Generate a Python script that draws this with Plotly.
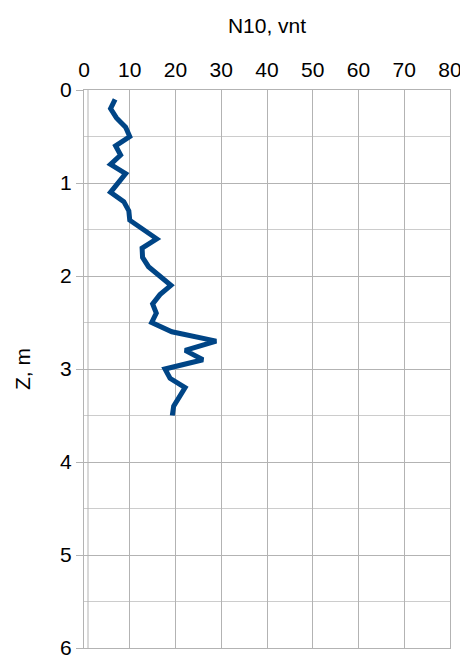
import plotly.graph_objects as go

depth_m = [0.1, 0.2, 0.3, 0.4, 0.5, 0.6, 0.7, 0.8, 0.9, 1.0,
           1.1, 1.2, 1.3, 1.4, 1.5, 1.6, 1.7, 1.8, 1.9, 2.0,
           2.1, 2.2, 2.3, 2.4, 2.5, 2.6, 2.7, 2.8, 2.9, 3.0,
           3.1, 3.2, 3.3, 3.4, 3.5]
n10_vnt = [6.8, 5.8, 7.1, 9.1, 10.0, 6.9, 8.0, 5.8, 9.1, 7.4,
           5.8, 8.7, 9.8, 10.0, 13.0, 15.9, 12.7, 12.8, 14.1, 16.6,
           19.0, 16.6, 15.0, 15.8, 14.8, 19.2, 28.9, 22.1, 26.0, 17.7,
           18.8, 22.1, 20.8, 19.6, 19.3]

x_ticks = [0, 10, 20, 30, 40, 50, 60, 70, 80]
y_ticks = [0, 1, 2, 3, 4, 5, 6]

fig = go.Figure()
fig.add_trace(go.Scatter(
    x=n10_vnt, y=depth_m, mode="lines",
    line=dict(color="#004586", width=5),
    showlegend=False,
))

fig.update_layout(
    width=468, height=664,
    margin=dict(l=76, r=26, t=82, b=24),
    paper_bgcolor="white", plot_bgcolor="white",
    font=dict(family="Liberation Sans, Arial, sans-serif", size=21, color="#000000"),
    xaxis=dict(
        side="top", range=[0, 80], tickvals=x_ticks,
        showgrid=True, gridcolor="#b3b3b3", gridwidth=1,
        showline=True, linecolor="#b3b3b3", mirror=True,
        ticks="", zeroline=False, automargin=False,
        ticklabelstandoff=4,
        title=dict(text="N10, vnt", font=dict(size=21), standoff=18),
        tickfont=dict(size=21),
    ),
    yaxis=dict(
        range=[6, 0], tickvals=y_ticks,
        showgrid=True, gridcolor="#b3b3b3", gridwidth=1,
        minor=dict(dtick=0.5, showgrid=True, gridcolor="#cccccc", gridwidth=1),
        showline=True, linecolor="#b3b3b3", mirror=True,
        ticks="outside", ticklen=7, tickcolor="#b3b3b3",
        zeroline=False, automargin=False,
        title=dict(text="Z, m", font=dict(size=21), standoff=23),
        tickfont=dict(size=21),
    ),
    shapes=[dict(type="line", xref="paper", yref="paper",
                 x0=4 / 366, x1=4 / 366, y0=0, y1=1,
                 line=dict(color="#b3b3b3", width=1))],
)

fig.write_html("out.html")
